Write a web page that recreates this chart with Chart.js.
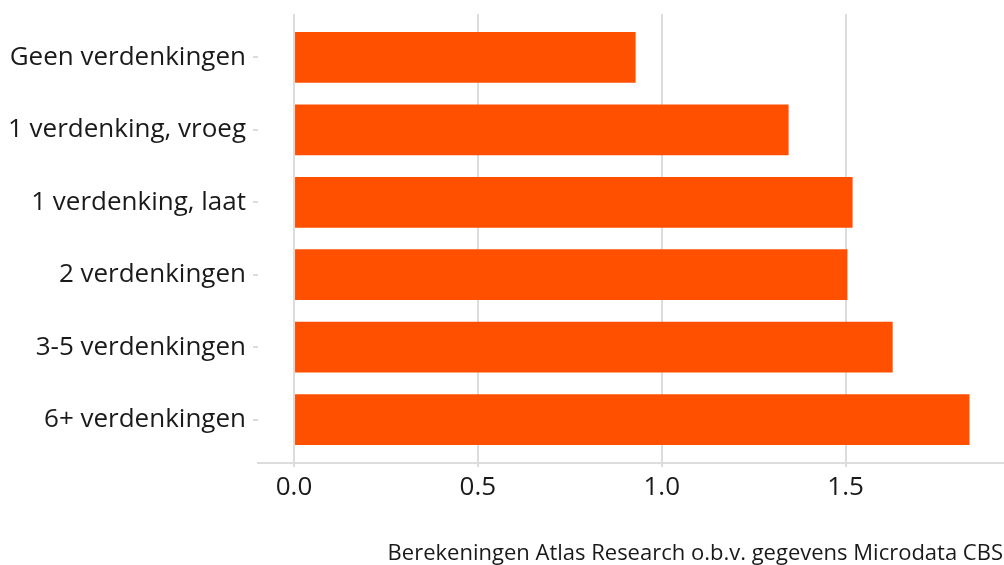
<!DOCTYPE html>
<html><head><meta charset="utf-8">
<script src="https://cdn.jsdelivr.net/npm/chart.js@4"></script>
<style>html,body{margin:0;padding:0;background:#fff}#wrap{width:1004px;height:565px}</style>
</head><body><div id="wrap"><canvas id="c" width="1004" height="565"></canvas></div>
<script>
const categories = ["Geen verdenkingen","1 verdenking, vroeg","1 verdenking, laat","2 verdenkingen","3-5 verdenkingen","6+ verdenkingen"];
const values = [0.929, 1.345, 1.519, 1.505, 1.628, 1.837];
const xTicks = [0, 0.5, 1.0, 1.5];
const caption = "Berekeningen Atlas Research o.b.v. gegevens Microdata CBS";

const font = "'Open Sans', 'Noto Sans', sans-serif";
const grid = "#dcdcdc";
new Chart(document.getElementById('c'), {
  type: 'bar',
  data: { datasets: [{
    data: values.map((v,i)=>({x:v, y:i})),
    backgroundColor: '#ff5000', borderWidth: 0,
    barPercentage: 0.7, categoryPercentage: 1.0
  }]},
  options: {
    indexAxis: 'y', responsive: false, animation: false,
    layout: { padding: { top: 14, right: 1, left: 0, bottom: 0 } },
    plugins: {
      legend: { display: false }, tooltip: { enabled: false },
      title: { display: true, text: caption, position: 'bottom', align: 'end',
        color: '#1a1a1a', font: { family: font, size: 22, weight: 'normal', lineHeight: 1.0 }, padding: { top: 0, bottom: 0 } }
    },
    scales: {
      x: { type: 'linear', min: -0.098, max: 1.928,
        afterBuildTicks: s => { s.ticks = xTicks.map(v=>({value:v})); },
        afterFit: s => { s.height = 80; },
        border: { display: true, color: grid, width: 2 },
        grid: { color: grid, lineWidth: 2, drawTicks: true, tickLength: 4, tickColor: grid },
        ticks: { padding: 5, color: '#1a1a1a', font: { family: font, size: 26 },
          callback: v => Number(v).toFixed(1), maxRotation: 0 }
      },
      y: { type: 'linear', reverse: true, min: -0.6, max: 5.6, offset: false,
        afterBuildTicks: s => { s.ticks = categories.map((c,i)=>({value:i})); },
        afterFit: s => { s.width = 258; s.paddingTop = 0; s.paddingBottom = 0; },
        border: { display: false },
        grid: { offset: false, drawOnChartArea: false, drawTicks: true, tickLength: 5, tickColor: grid, lineWidth: 2 },
        ticks: { padding: 7, color: '#1a1a1a', font: { family: font, size: 26 },
          callback: v => categories[v] }
      }
    }
  }
});
</script></body></html>
